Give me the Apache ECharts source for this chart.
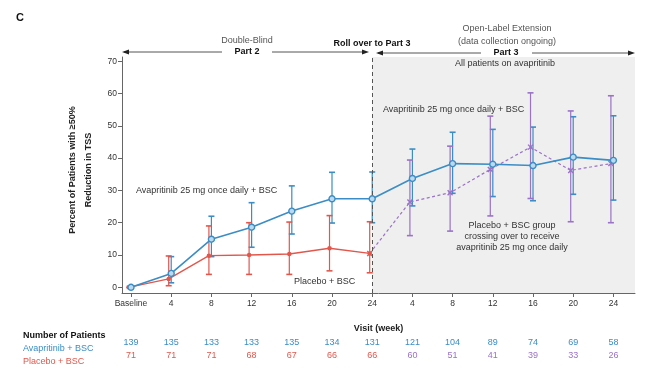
<!DOCTYPE html>
<html>
<head>
<meta charset="utf-8">
<script src="https://cdn.jsdelivr.net/npm/echarts@6/dist/echarts.min.js"></script>
<style>
html,body{margin:0;padding:0;background:#fff;}
#chart{width:650px;height:389px;}
</style>
</head>
<body>
<div id="chart"></div>
<script>
// ---- data ----
var visitLabels = ['Baseline','4','8','12','16','20','24','4','8','12','16','20','24'];
var yTicks = [0,10,20,30,40,50,60,70];
var avaMean = [0, 4.3, 14.9, 18.6, 23.6, 27.4, 27.4, 33.7, 38.3, 38.1, 37.7, 40.3, 39.3];
var avaLow  = [null, 1.4, 9.5, 12.4, 16.5, 19.9, 20.0, 25.2, 29.1, 28.1, 26.8, 28.8, 27.0];
var avaHigh = [null, 9.5, 22.0, 26.2, 31.4, 35.6, 35.7, 42.8, 48.0, 48.9, 49.6, 52.8, 53.1];
var plaMean = [0, 2.6, 9.8, 10.0, 10.3, 12.1, 10.5];
var plaLow  = [null, 0.5, 4.0, 4.0, 4.0, 5.1, 4.5];
var plaHigh = [null, 9.7, 19.0, 20.0, 20.2, 22.2, 20.3];
var crossMean = [null, null, null, null, null, null, 10.5, 26.4, 29.3, 36.5, 43.4, 36.2, 38.3];
var crossLow  = [null, null, null, null, null, null, null, 16.0, 17.4, 22.1, 27.5, 20.3, 20.0];
var crossHigh = [null, null, null, null, null, null, null, 39.4, 43.7, 53.0, 60.2, 54.6, 59.3];
var nAva = [139,135,133,133,135,134,131,121,104,89,74,69,58];
var nPla = [71,71,71,68,67,66,66,60,51,41,39,33,26];

// ---- styles ----
var BLUE = '#3a8dc5', RED = '#e2574c', PURPLE = '#9a72c6';
var FONT = 'Liberation Sans';
var idx = visitLabels.map(function(_, i){ return i; });

function pairs(arr){ return arr.map(function(v,i){ return [i, v]; }); }
function errData(lo, hi){
  var out = [];
  for (var i=0;i<lo.length;i++){ if (lo[i]!=null && hi[i]!=null) out.push([i, lo[i], hi[i]]); }
  return out;
}
function errSeries(lo, hi, color, axisIdx){
  return {
    type:'custom', xAxisIndex:axisIdx, yAxisIndex:axisIdx, z:3,
    data: errData(lo, hi),
    renderItem: function(params, api){
      var x = api.value(0);
      var p1 = api.coord([x, api.value(1)]);
      var p2 = api.coord([x, api.value(2)]);
      var hw = 3;
      var st = {stroke: color, lineWidth: 1.2};
      return {type:'group', children:[
        {type:'line', shape:{x1:p1[0],y1:p1[1],x2:p2[0],y2:p2[1]}, style:st},
        {type:'line', shape:{x1:p1[0]-hw,y1:p1[1],x2:p1[0]+hw,y2:p1[1]}, style:{stroke:color,lineWidth:1.6}},
        {type:'line', shape:{x1:p2[0]-hw,y1:p2[1],x2:p2[0]+hw,y2:p2[1]}, style:{stroke:color,lineWidth:1.6}}
      ]};
    }
  };
}

var XMIN = -0.224, XMAX = 12.537, YMIN = -1.76, YMAX = 71.3;
function baseX(extra){
  return Object.assign({
    type:'value', min:XMIN, max:XMAX, splitLine:{show:false}
  }, extra);
}

var chart = echarts.init(document.getElementById('chart'), null, {renderer:'canvas'});

var txt = function(x, y, s, opt){
  return {type:'text', x:x, y:y, z:10, style:Object.assign({text:s, font:'9px '+FONT, fill:'#333', align:'center', verticalAlign:'middle'}, opt||{})};
};
var arrowHead = function(x, y, dir){
  return {type:'polygon', z:10, shape:{points:[[x,y],[x-dir*7,y-2.5],[x-dir*7,y+2.5]]}, style:{fill:'#222'}};
};
var hline = function(x1, x2, y){
  return {type:'line', z:10, shape:{x1:x1,y1:y,x2:x2,y2:y}, style:{stroke:'#555', lineWidth:1}};
};

var option = {
  animation:false,
  grid:[
    {left:122, right:15, top:57, bottom:96},
    {left:119.5, right:17.5, top:57, bottom:96}
  ],
  xAxis:[
    baseX({gridIndex:0, position:'bottom',
      name:'Visit (week)', nameLocation:'middle', nameGap:31,
      nameTextStyle:{fontFamily:FONT, fontSize:9, fontWeight:'bold', color:'#222'},
      axisLine:{show:true, onZero:false, lineStyle:{color:'#666', width:1}},
      axisTick:{show:true, length:4, customValues:idx, lineStyle:{color:'#666'}},
      axisLabel:{customValues:idx, margin:6, fontFamily:FONT, fontSize:8.5, color:'#333',
        formatter:function(v){ return visitLabels[Math.round(v)]; }}
    }),
    baseX({gridIndex:1, show:false}),
    baseX({gridIndex:0, position:'bottom', offset:45,
      axisLine:{show:false}, axisTick:{show:false},
      axisLabel:{customValues:idx, margin:0, fontFamily:FONT, fontSize:9, color:BLUE,
        formatter:function(v){ return String(nAva[Math.round(v)]); }}
    }),
    baseX({gridIndex:0, position:'bottom', offset:58,
      axisLine:{show:false}, axisTick:{show:false},
      axisLabel:{customValues:idx, margin:0, fontFamily:FONT, fontSize:9,
        color:function(v, i){ return Math.round(v) <= 6 ? RED : PURPLE; },
        formatter:function(v){ return String(nPla[Math.round(v)]); }}
    })
  ],
  yAxis:[
    {type:'value', gridIndex:0, min:YMIN, max:YMAX,
      splitLine:{show:false},
      axisLine:{show:true, onZero:false, lineStyle:{color:'#666', width:1}},
      axisTick:{show:true, length:4, customValues:yTicks, lineStyle:{color:'#666'}},
      axisLabel:{customValues:yTicks, margin:5, fontFamily:FONT, fontSize:8.5, color:'#333'},
      name:'Percent of Patients with \u226550%\nReduction in TSS', nameLocation:'middle', nameRotate:90, nameGap:11,
      nameTextStyle:{fontFamily:FONT, fontSize:9, fontWeight:'bold', color:'#222', lineHeight:16, align:'center', padding:[0,0,0,10]}
    },
    {type:'value', gridIndex:1, min:YMIN, max:YMAX, show:false}
  ],
  series:[
    {type:'line', xAxisIndex:0, yAxisIndex:0, data:[], silent:true, z:0,
      markArea:{silent:true, itemStyle:{color:'#efefef'}, data:[[{xAxis:6},{xAxis:XMAX}]]},
      markLine:{silent:true, symbol:'none', label:{show:false},
        lineStyle:{color:'#555', type:[4,3], width:1}, data:[{xAxis:6}]}
    },
    errSeries(avaLow, avaHigh, BLUE, 0),
    errSeries(plaLow, plaHigh, RED, 1),
    errSeries(crossLow, crossHigh, PURPLE, 1),
    {type:'line', xAxisIndex:1, yAxisIndex:1, data:pairs(crossMean), z:4,
      connectNulls:false,
      lineStyle:{color:PURPLE, width:1.2, type:[3,2.5]},
      symbol:'path://M0,0L10,10M10,0L0,10', symbolSize:5, showSymbol:true,
      itemStyle:{color:PURPLE, borderColor:PURPLE, borderWidth:1.4},
      emphasis:{disabled:true}
    },
    {type:'line', xAxisIndex:1, yAxisIndex:1, data:pairs(plaMean), z:5,
      lineStyle:{color:RED, width:1.4},
      symbol:'circle', symbolSize:4.5,
      itemStyle:{color:RED, borderColor:RED, borderWidth:0},
      emphasis:{disabled:true}
    },
    {type:'line', xAxisIndex:0, yAxisIndex:0, data:pairs(avaMean), z:6,
      lineStyle:{color:BLUE, width:1.6},
      symbol:'circle', symbolSize:6,
      itemStyle:{color:'#bcd9ee', borderColor:BLUE, borderWidth:1.4},
      emphasis:{disabled:true}
    }
  ],
  graphic:[
    txt(20, 18, 'C', {font:'bold 11px '+FONT, fill:'#111'}),
    txt(247, 41, 'Double-Blind', {fill:'#555'}),
    txt(247, 52, 'Part 2', {font:'bold 9px '+FONT, fill:'#111'}),
    hline(124, 222, 52), arrowHead(122, 52, -1),
    hline(272, 366, 52), arrowHead(369, 52, 1),
    txt(372, 44, 'Roll over to Part 3', {font:'bold 9px '+FONT, fill:'#111'}),
    txt(507, 29, 'Open-Label Extension', {fill:'#555'}),
    txt(507, 42, '(data collection ongoing)', {fill:'#555'}),
    txt(506, 53, 'Part 3', {font:'bold 9px '+FONT, fill:'#111'}),
    hline(378, 481, 53), arrowHead(376, 53, -1),
    hline(532, 632, 53), arrowHead(635, 53, 1),
    txt(505, 64, 'All patients on avapritinib', {fill:'#333'}),
    txt(136, 191, 'Avapritinib 25 mg once daily + BSC', {align:'left'}),
    txt(294, 282, 'Placebo + BSC', {align:'left'}),
    txt(383, 110, 'Avapritinib 25 mg once daily + BSC', {align:'left'}),
    txt(512, 226, 'Placebo + BSC group', {}),
    txt(512, 237, 'crossing over to receive', {}),
    txt(512, 248, 'avapritinib 25 mg once daily', {}),
    txt(23, 336, 'Number of Patients', {align:'left', font:'bold 9px '+FONT, fill:'#111'}),
    txt(23, 349, 'Avapritinib + BSC', {align:'left', fill:BLUE}),
    txt(23, 362, 'Placebo + BSC', {align:'left', fill:RED})
  ]
};
chart.setOption(option);
</script>
</body>
</html>
